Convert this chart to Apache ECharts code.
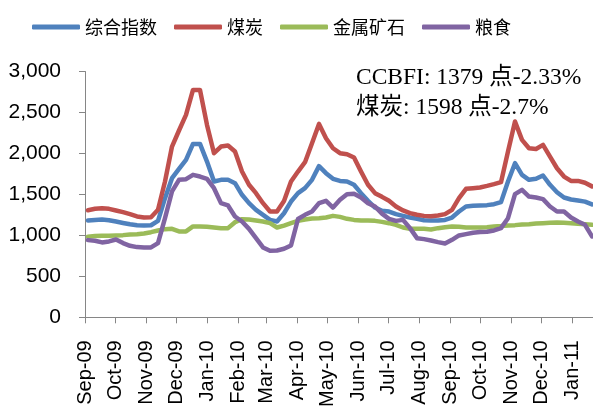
<!DOCTYPE html>
<html><head><meta charset="utf-8">
<script src="https://cdn.jsdelivr.net/npm/echarts@6/dist/echarts.min.js"></script>
<style>html,body{margin:0;padding:0;background:#fff}#c{width:593px;height:410px}</style>
</head><body><div id="c"></div>
<script>
// Weekly dates (Fridays)
const dates = [
 '2009-09-04','2009-09-11','2009-09-18','2009-09-25','2009-10-02','2009-10-09','2009-10-16','2009-10-23','2009-10-30',
 '2009-11-06','2009-11-13','2009-11-20','2009-11-27','2009-12-04','2009-12-11','2009-12-18','2009-12-25',
 '2010-01-01','2010-01-08','2010-01-15','2010-01-22','2010-01-29','2010-02-05','2010-02-12','2010-02-19','2010-02-26',
 '2010-03-05','2010-03-12','2010-03-19','2010-03-26','2010-04-02','2010-04-09','2010-04-16','2010-04-23','2010-04-30',
 '2010-05-07','2010-05-14','2010-05-21','2010-05-28','2010-06-04','2010-06-11','2010-06-18','2010-06-25',
 '2010-07-02','2010-07-09','2010-07-16','2010-07-23','2010-07-30','2010-08-06','2010-08-13','2010-08-20','2010-08-27',
 '2010-09-03','2010-09-10','2010-09-17','2010-09-24','2010-10-01','2010-10-08','2010-10-15','2010-10-22','2010-10-29',
 '2010-11-05','2010-11-12','2010-11-19','2010-11-26','2010-12-03','2010-12-10','2010-12-17','2010-12-24','2010-12-31',
 '2011-01-07','2011-01-14','2011-01-21'
];
const composite = [
 1181,1189,1193,1185,1169,1152,1136,1124,1120,1124,
 1177,1454,1698,1812,1921,2116,2116,1901,1657,1678,
 1678,1637,1495,1393,1312,1251,1189,1169,1270,1413,
 1515,1576,1678,1845,1759,1690,1665,1657,1617,1515,
 1422,1340,1300,1291,1259,1238,1218,1202,1185,1181,
 1181,1189,1218,1291,1353,1361,1365,1369,1381,1406,
 1657,1881,1739,1678,1690,1731,1617,1527,1462,1438,
 1426,1412,1379
];
const coal = [
 1307,1324,1331,1324,1304,1283,1259,1231,1218,1222,
 1312,1657,2084,2280,2470,2775,2775,2348,2003,2084,
 2096,2023,1779,1617,1515,1393,1291,1291,1420,1657,
 1779,1893,2125,2360,2185,2063,2003,1990,1950,1779,
 1617,1515,1470,1422,1353,1304,1271,1251,1238,1234,
 1242,1259,1312,1454,1568,1576,1585,1604,1625,1649,
 2023,2389,2165,2063,2055,2104,1962,1819,1718,1665,
 1665,1642,1598
];
const metalOre = [
 983,991,995,995,999,1003,1011,1015,1023,1039,
 1060,1076,1080,1048,1048,1109,1109,1105,1096,1088,
 1088,1161,1198,1194,1181,1169,1149,1096,1120,1149,
 1177,1194,1206,1210,1218,1238,1226,1202,1189,1181,
 1181,1177,1165,1149,1129,1096,1080,1080,1080,1072,
 1088,1100,1109,1105,1096,1096,1096,1100,1109,1113,
 1121,1125,1133,1137,1145,1149,1153,1157,1153,1149,
 1141,1137,1129
];
const grain = [
 942,934,914,926,950,906,873,857,853,853,
 906,1210,1536,1678,1686,1739,1718,1690,1576,1393,
 1365,1231,1169,1080,966,853,812,816,836,877,
 1200,1251,1291,1393,1422,1340,1434,1503,1507,1462,
 1393,1353,1265,1202,1177,1189,1088,966,954,938,
 918,901,946,999,1015,1031,1040,1045,1060,1088,
 1210,1503,1556,1474,1462,1442,1353,1291,1291,1218,
 1169,1129,987
];
const seriesNames = ['综合指数','煤炭','金属矿石','粮食'];
const seriesColors = ['#4F81BD','#C0504D','#9BBB59','#8064A2'];
const monthAbbr = ['Jan','Feb','Mar','Apr','May','Jun','Jul','Aug','Sep','Oct','Nov','Dec'];
const noteLines = ['CCBFI: 1379 点-2.33%','煤炭: 1598 点-2.7%'];

const allValues = [composite, coal, metalOre, grain];
const chart = echarts.init(document.getElementById('c'), null, {renderer:'canvas'});
const axisColor = '#868686';
chart.setOption({
  animation:false,
  backgroundColor:'#fff',
  grid:{left:85, right:0, top:71.5, bottom:92},
  legend:{
    data:seriesNames, left:27, top:13, icon:'roundRect', itemWidth:48, itemHeight:5, itemGap:17,
    textStyle:{fontSize:18, color:'#000', fontFamily:'"Noto Sans CJK SC", sans-serif'}
  },
  xAxis:{
    type:'time', min:'2009-09-01', max:'2011-01-22', splitNumber:17,
    minInterval:28*86400000, maxInterval:31*86400000,
    axisLine:{lineStyle:{color:axisColor, width:1}},
    axisTick:{show:true, length:6, lineStyle:{color:axisColor}},
    splitLine:{show:false},
    axisLabel:{
      rotate:90, margin:23, fontSize:20, color:'#000', fontFamily:'"Liberation Sans", Arial',
      formatter:function(v){const d=new Date(v);return monthAbbr[d.getMonth()]+'-'+String(d.getFullYear()).slice(2);}
    }
  },
  yAxis:{
    type:'value', min:0, max:3000, interval:500,
    axisLine:{show:true, lineStyle:{color:axisColor, width:1}},
    axisTick:{show:true, length:6, lineStyle:{color:axisColor}},
    splitLine:{show:false},
    axisLabel:{margin:24, fontSize:21, color:'#000', fontFamily:'"Liberation Sans", Arial',
      formatter:function(v){return String(v).replace(/\B(?=(\d{3})+(?!\d))/g, ',');}}
  },
  graphic:[
    {type:'text', left:356, top:66, style:{text:noteLines[0], fontSize:23.5, fill:'#000', fontFamily:'"Liberation Serif", "Noto Sans CJK SC", serif'}},
    {type:'text', left:356, top:96, style:{text:noteLines[1], fontSize:23.5, fill:'#000', fontFamily:'"Liberation Serif", "Noto Sans CJK SC", serif'}}
  ],
  series: seriesNames.map((name,i)=>({
    name:name, type:'line', showSymbol:false, symbol:'none',
    data: dates.map((d,j)=>[d, allValues[i][j]]),
    lineStyle:{width:4.5, color:seriesColors[i], cap:'round', join:'round'},
    itemStyle:{color:seriesColors[i]}
  }))
});
</script>
</body></html>
